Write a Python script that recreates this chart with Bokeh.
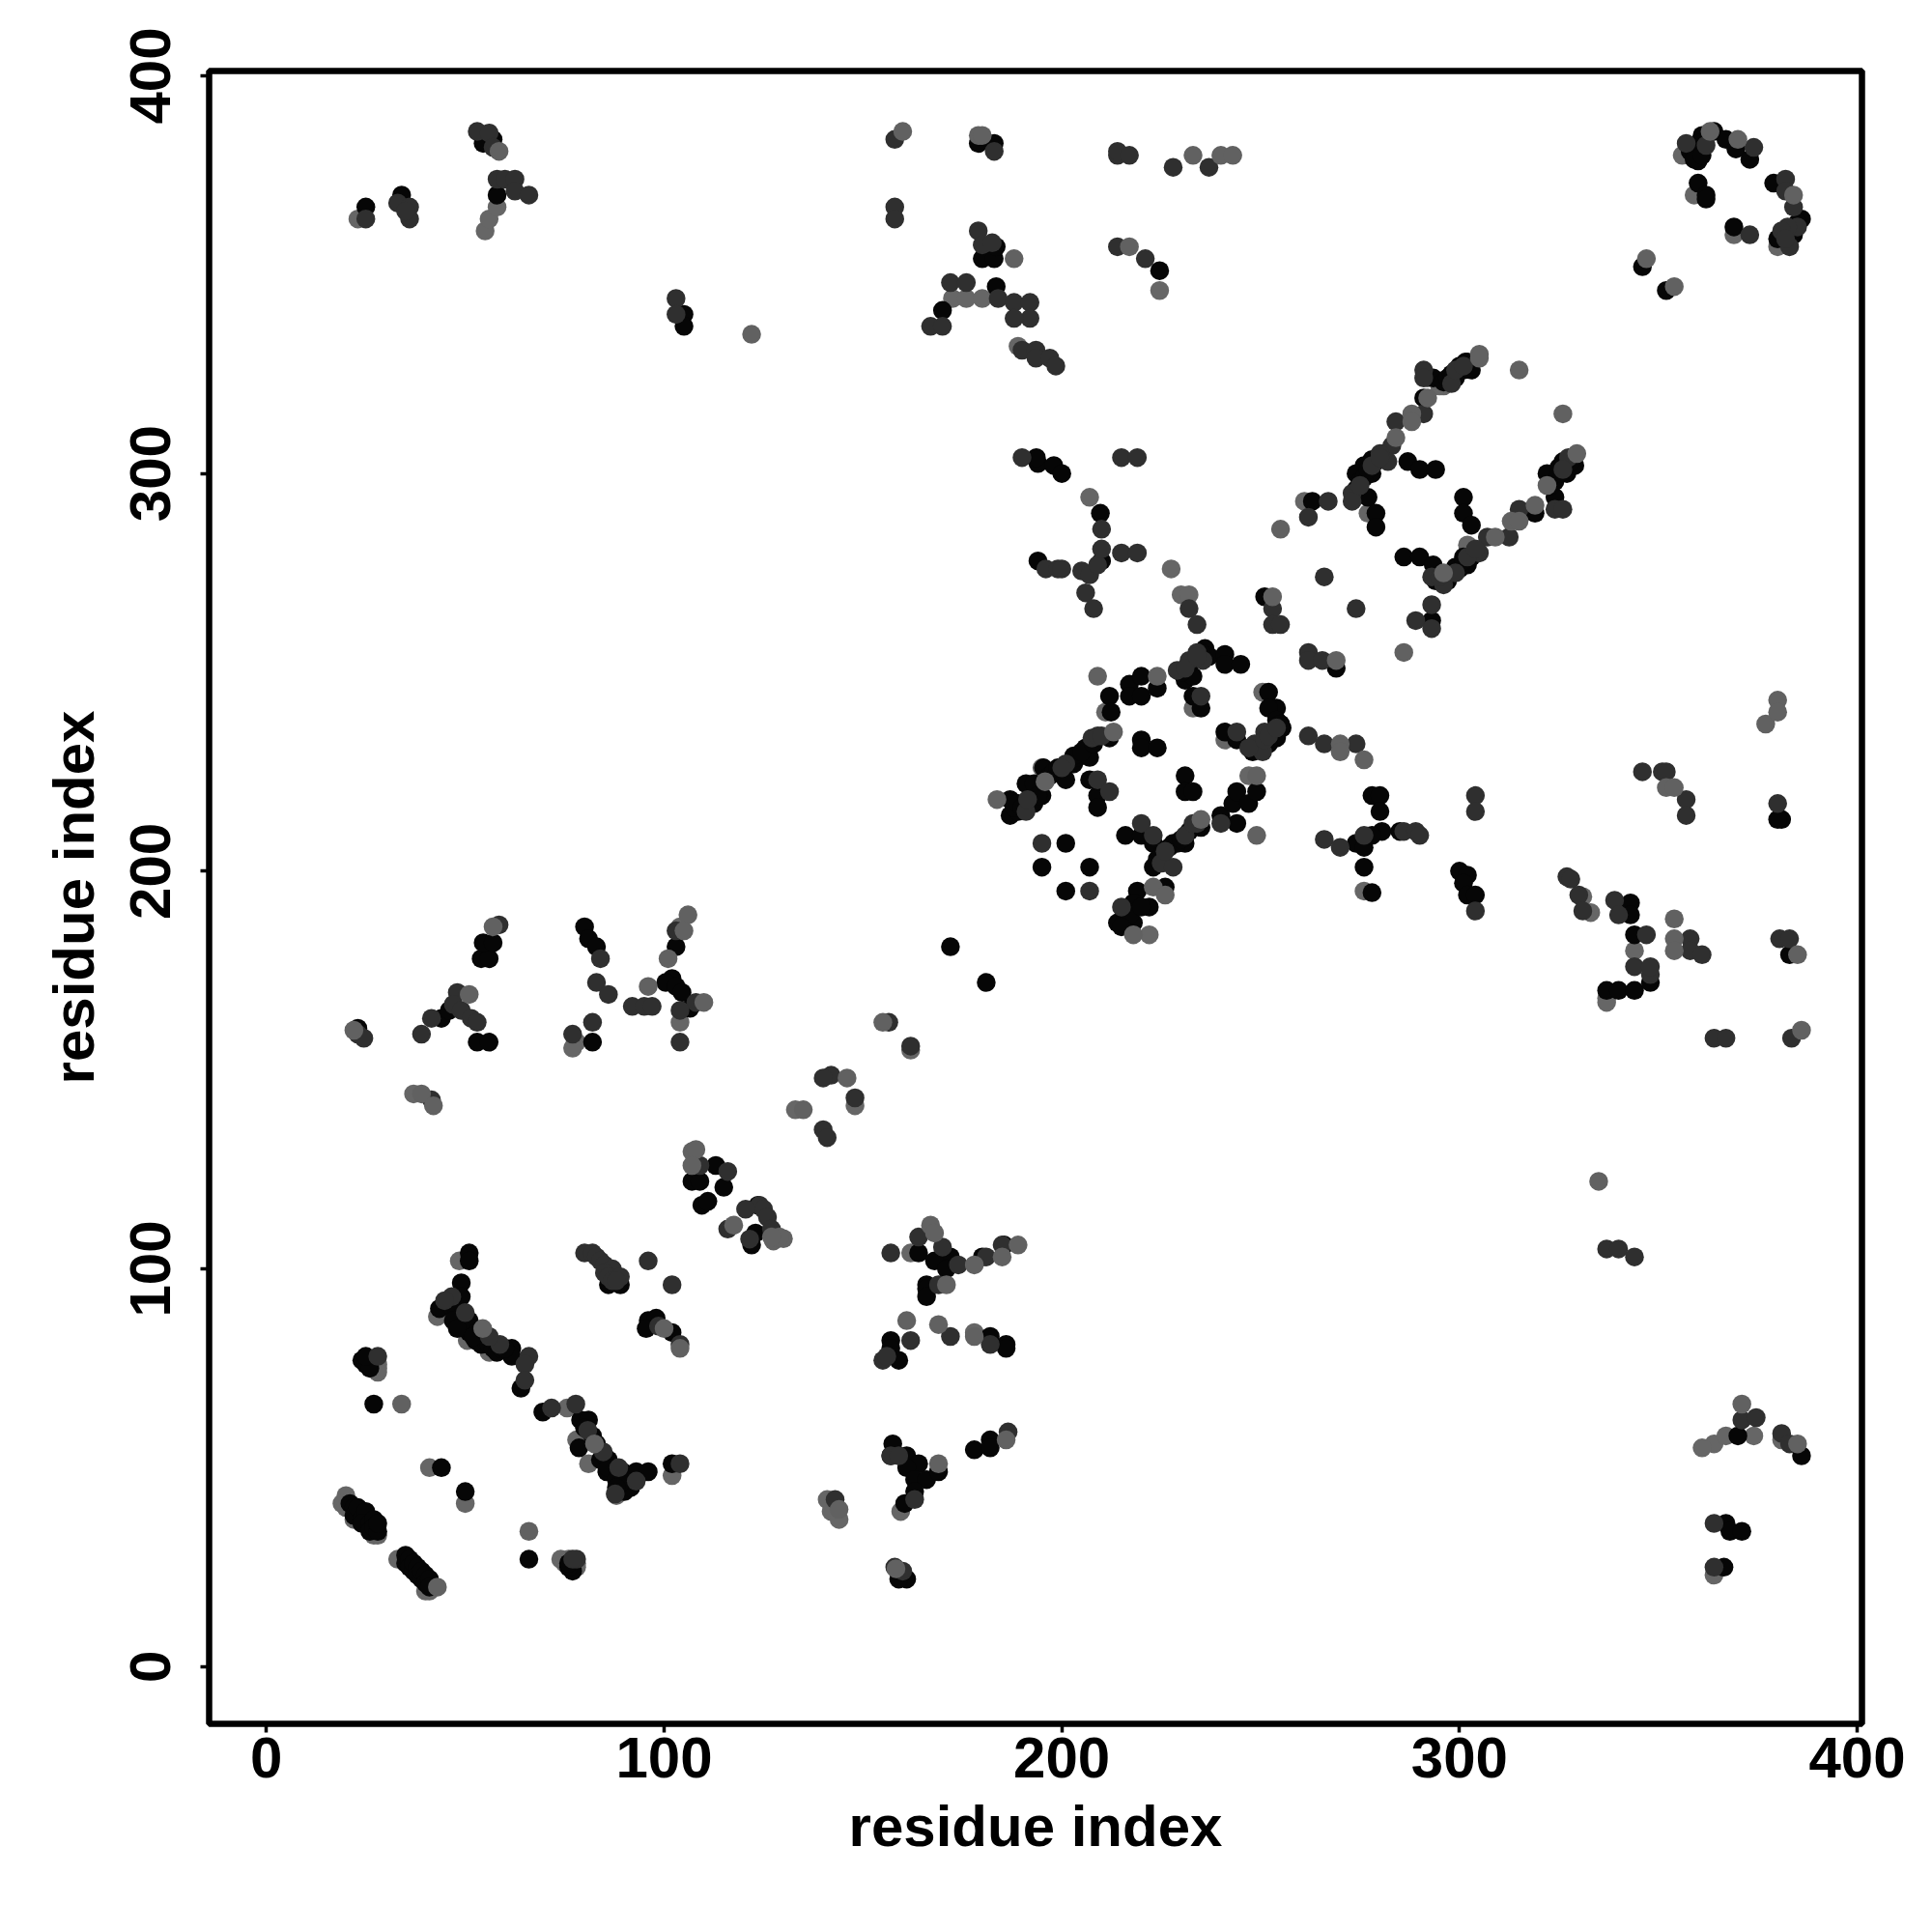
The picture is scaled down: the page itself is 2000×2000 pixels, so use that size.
from bokeh.plotting import figure
from bokeh.embed import file_html
from bokeh.resources import INLINE
from bokeh.models import FixedTicker, ColumnDataSource

tick_values = [0, 100, 200, 300, 400]
x_title = "residue index"
y_title = "residue index"

gray_under = [
 (20,43),(19,41),(20,40),(22,37),(24,38),(26,35),(27,33),(28,33),(33,27),(40,19),(41,19),
 (43,88),(50.5,82),(56,79),(41,50),(50,41),(74,27),(75,26),(76,27),(78,25),(78,26),(28,76),(28,75),(28,74),(27,77),
 (75.6,65),(78,57),(81,51),(102,48),(88,43),(162,104),(178,84),(159.5,39),(141,42),(142,39),(144,37),
 (211,240),(195,226),(233,241),(241,233),(250.5,245),(247,224),(222,184),(276,195),(261,293),(277,290),
 (292,324),(296,322),(295,322),(302,282),(356,380),(359,370),(369,360),(380,357),(337,168),(337,167),(48.5,102),
 (78,157),(77,155.5),(37,144),(104,162),(133,140),(148,141),(162,155),(23,364),(55,361),(56,364),(58,367),
 (189,332),(172.5,344),(176,344),(180,344),(224.6,346),(207,294),(227.5,276),(230,269.5),(232,269.5),
 (331,193.6),(333,189.6),(344,180),(364,23),(364,56),(361,55),(367,58),(374,58),(381,57),(104,186),
]
black = [
 (21,41),(22,40),(22,38),(23,40),(24,37),(25,39),(24,36),(26,36),(26,34),(27,37),(27,35),(28,34),(28,36),
 (35,28),(35,26),(36,27),(36,25),(37,24),(37,26),(38,25),(38,23),(39,22),(39,24),(40,23),(40,21),(41,22),(41,20),
 (27,66),(44,50),(50,44),(66,27),(77,24),(76,25),(76,26),(24,77),(25,76),(26,75),(25,78),
 (49,96.5),(49,93),(43.5,90),(51,87),(49,86),(52.6,82),(61.7,80),(61.7,78),(64,70),
 (46,91),(47,90),(48,89),(49,88),(50,85),(51,84),(52,85),(53,84),(54,83),(54,81),(55,82),(56,81),(57,80),(58,79),(59,80),(60,80),
 (69.5,64),(79,62),(81,62),(78.6,55),(86,52),(85.6,49),(89.5,49),(90,44),(91.6,45),(93,49),(96,49),(102,51),
 (80,60),(82,58),(83,56),(84,52),(85,53),(86,50),(88,47),(89,46),(90,47),(88,45),
 (96,87),(98,87.6),(95.5,85),(102,84),(88.6,97),(86,96),(89,96),(51,104),(51,102),
 (123,109),(122,106),(107,122),(109,122),(115,120.5),(109.5,116),(111,117),(123.6,116),(113,126),
 (164,104),(172,103),(168,102),(171,100),(180,103),(185.5,106),(166,96),(166,95),(166,93),(157,82),(157,80),(159,77),(182,83),(186,81),(186,80),
 (157.5,56),(157,53),(161,53),(164,51),(161,50),(163,47),(166,47),(169,49),(163,44),(160.5,41),(178,54.5),(182,57),(182,55),(161,22),(159,22),
 (212,244),(212.4,240),(217,247),(217,244),(220,244),(220,249),(224,246),(187,218),(187,214),(189,215),(191,222),(193,222),(195,219),(195.4,226),
 (201,223),(203,227),(204,228.6),(206,231),(207,228.6),(212,233.5),(207,223),(209,219),(209,216),(220,233),(220,231),(224,231),
 (231,224),(231,220),(233,220),(201,207),(195,201),(207,201),(201,195),(216,209),(220,209),(223,207),(223,201),(228,207),(231,207),(233,211),(235,211),
 (240,214),(244,212),(243,217),(244,220),(247,217),(249,220),(219,195),(226,196),(222,191),(218,192),(214,187),(218,187),(216,188),
 (231,248),(233,249),(236,256),(237,254),(241,254.5),(241,252),(245,252),(233,244),(235,241),
 (252,245),(254,241),(252,241),(254,238),(255.4,236),(254,233.5),(252,232),(241,235),(244,233),(269,251),
 (278,219),(280,219),(280,215),(280.5,210),(274,207),(276,206),(278,209),(285,210),(276,201),(278,194.6),(181,172),(172,181),
 (301.5,328),(301,326),(299,324),(303,326),(293.4,324),(291,319),(278,303.5),(276,302),(274,300),(278,300),(277,294),(279,290),(279,286.5),(319,290),
 (287,303),(290,301),(294,301),(301,294),(301,290),(303,287),(286,279),(290,279),(293.4,277),(301,279),(302,277),(299,276.5),
 (263,293),(251,269),(293,263),(324,294),(322,300),(325,301.5),(326,303),(327,300),(329,302),
 (346,352),(352,346),(360,373),(362,370),(362,369),(360,378.6),(361,385),(364,386),(367,384),(369.5,381.6),(373,379),(379,373),(386,364),(384,360),(369,362),
 (25,367),(34,370),(58,370),(54.5,383),(57,384),(105,340),(105,337),(179,383),(183,383),(180,354),(183,354),(183.5,357),(183.5,347),(170,341),(194,302.5),
 (194,278),(210,278),(209.7,290),(224.6,351),(193.6,304),(198,302),(200,300),
 (300,200),(302,199),(301,197),(302,194),(304,194),(343,192),(343,189),(344,184),(337,170),(340,170),(344,170),(348,172),
 (381,213),(380,213),(383,179),(386,53),(370,58),(367,36),(368,34),(371,34),(366.5,25),
 (54,178),(56,178),(54.5,182),(57,182),(53,157),(56,157),(44,163),(46,165),(23,160.5),
 (80,186),(81,183),(83,181),(82,157),(102,173),(100.4,172),(103,171),(104.5,169.5),(103,181),(106.5,165.5),
 (274,296),(275,298),(276,299),(277,301),(279,303),(281,305),(294,273),(297,273),(298,275),(300,276),(301,278),(303,279),
 (296,323),(297,324),(298,325),(300,327),(302,328),(323,297),(324,298),(325,300),(327,302),(328,303),
 (197,224),(198,225),(199,226),(203,229),(205,230),(208,232),(224,203),(225,204),(227,206),(229,207),(230,208),(232,210),
 (230,250),(232,252),(233,253),(235,255),(248,230),(249,231),(250,232),(253,235),(255,237),(188,216),(189,217),(190,216),(193,217),(194,219),
 (358,381),(359,382),(359,379),(360,383),(361,380),(380,359),(384,361),(385,363),(383,360),
 (47,87),(48,85),(52,83),(216,190),(217,189),(220,191),(215,186),
]
dark = [
 (28,78),(78,27),(77,27),(66,78),(65,76),(65,72),(58.7,81),(56,83),(50,89),(46.6,93),(44.8,92),
 (71.7,65),(77.8,66),(80.8,59.4),(84.7,54),(88.6,50),(87.7,43.4),(93,46.6),(104,51),(96,102),(102,96),(98.6,85.6),(104,81),
 (80,104),(82,104),(83,103),(84,102),(85,101),(87,100),(85,99),(86,98),(87,97),(89,98),(88,97),
 (124,116),(125,115),(126,113),(127,110),(116,124.5),(109,126),(116,110),(120.5,115),(121.5,107.5),
 (157,104),(164,108),(170,105.5),(174,101),(181,103),(185,106),(169,96),(162,82),(155,77),(156,78),(172,83),(182,81),
 (157,53),(159,53),(163,42),(186.5,59),(143,42),(158,25),(160,24),
 (191,215),(191.4,218),(201,227),(207.6,233.5),(209,234),(209,223),(212,220),(195,207),(207,195),(220,212),(223,209),(225,202),(228,201),(231,209),(233,212),(240,212),
 (215,191),(229,250.5),(232,253),(234,255),(235.5,253),(235,244),(251,235),(248.5,232),(250.5,230),(247,231),(244,235),
 (262,255),(262,253),(265.5,253),(262,234),(266,232),(274,232),(266,208),(270,206),(276,209),(291,326),(291,324),(298,322.6),
 (291,315),(284,313),(283,307),(282,303),(280,305),(273,295),(273,293),(293,274),(296,272),(305,280),(307,284),(312.5,284),(315,291),(324,291),(326,291),(327.4,304),
 (267,293),(262,289),(266,274),(274,266),(253,266),(253,262),(255,262),(293,267),(289,263),(293,261),
 (357,383),(362,382.5),(374,382),(382,374),(382,371),(384,367),(385,362),(382.5,362),(381,361),(383,357),(382,359),(373,360),
 (25,364),(33,368),(36,367),(36,364),(35,366),(58,374),(60,374),(62.5,374),(62.5,371),(66,370),(53,386),(56,385.6),(57,382),
 (103,344),(103,340),(158,384),(158,367),(158,364),(183,381),(214,380),(214,381),(217,380),(228,377),(237,377),
 (179,361),(180,357.5),(182.5,358),(167,337),(170,337),(172,348),(176,348),(184,344),(188,343),(192,343),(192,339),(188,339),(190,331),(193.5,331),(193.5,329),(197,329),(198.5,327),
 (214,357),(221,354),(190,304),(215,304),(219,304),(196,276),(199,276),(200,276),(205,275.5),(207,274.5),(206,270),(208,266),(209,277),(210,281),(215,280),(219,280),(210,286),(232,266),(234,262),
 (286,210),(289,210),(290,209),(304,219),(304,215),(304,190),(327,198.6),(328,198),(330,194),(331,190),(339,192.7),(340,189),(347,184),(348,174),(344,176),(348,176),(358,183),(358,180),(361,179),
 (346,225),(351,225),(352,225),(357,218),(357,214),(380,217),(380.5,183),(383,183),(364,158),(367,158),(383.5,158),(337,105),(340,105),(344,103),
 (371,62),(374.6,62.6),(381,58.6),(383,56),(364,36),(364,25),
 (23,159),(24.5,158),(41.5,142.5),(39,159),(41.5,163),(48,169.5),(47,166.5),(49,165),(51.5,163),(53,162),(58.5,186.5),(84,178),(83,172),(86,169),(82,162),(77,159),
 (92,166),(95,166),(97,166),(103,185),(108,167),(104,165),(104,157),(142,148.7),(140,148),(148,143),(140,135),(141,133),(156.5,162),(162,156),
 (275,297),(278,302),(280,304),(295,274),(299,275),(302,279),(304,281),(299,326),(301,327),(326,301),(200,226),(210,234),(226,205),(234,212),
 (231,251),(234,254),(251,233),(252,234),(254,236),
]
gray_top = [
 (43,20),(34,66),(66,34),(104,80),(100,85),(54.4,85),(82.5,56),
 (130,107.6),(127.5,107),(129,108),(127,108),(107,129.5),(108,130),(107,126),(117.5,111),
 (167,111),(168,109),(171,96),(178,101),(185,103),(189,106),(161,87),(169,86),(178,83),(186,57),(169,51),(144,39.5),(158.3,24.6),
 (209,249),(183.7,218),(195.8,222.5),(213,235),(224,249),(235,213),(249,209),(249,224),(218,184),(223,196),(226,194),(270,232),(270,230),(276,228),(269,253),
 (305,330),(305,329),(315,326),(326,315),(292,319),(288,315),(288,313),(284,309),(255,286),(253,269),(286,255),(309,284),(313,288),(315,288),(319,292),(329.5,305),(296,275),(322,297),
 (160,386),(179,385),(180,385),(188,354),(122,335),(233,380),(240,380),(243,380),(217,357),(363,386),(370,384),(384,370),
 (347,354),(354,347),(352,221),(354,221),(377,237),(380,243),(380,240),(385,179),(386,160),(335,122),(371,66),(385,56),
 (22,160),(39,144),(42,141),(51,169),(57,186),(106,189),(105,185),(96,171),(101,178),(110,167),(146,148),(135,140),(155,162),(58.5,381),(354,188),(354,183),(354,180),
]

shades = [("#666666", gray_under), ("#060606", black), ("#2f2f2f", dark), ("#616161", gray_top)]

p = figure(width=1990, height=1990, output_backend="svg", toolbar_location=None,
           x_range=(-14.4, 401.2), y_range=(-14.4, 401.2),
           min_border_left=216, min_border_right=63, min_border_top=73, min_border_bottom=206,
           x_axis_label=x_title, y_axis_label=y_title)
p.grid.visible = False
p.outline_line_color = "black"
p.outline_line_width = 6.5
p.background_fill_color = "white"
p.border_fill_color = "white"

for colour, pts in shades:
    src = ColumnDataSource(dict(x=[a for a, _ in pts], y=[b for _, b in pts]))
    p.scatter("x", "y", source=src, size=19.5, color=colour, line_color=None)

for ax in (p.xaxis[0], p.yaxis[0]):
    ax.ticker = FixedTicker(ticks=tick_values)
    ax.axis_line_color = None
    ax.minor_tick_line_color = None
    ax.major_tick_line_color = "black"
    ax.major_tick_line_width = 3.5
    ax.major_tick_out = 9
    ax.major_tick_in = 0
    ax.major_label_text_font = "Liberation Sans"
    ax.major_label_text_font_style = "bold"
    ax.major_label_text_font_size = "60px"
    ax.major_label_text_color = "black"
    ax.axis_label_text_font = "Liberation Sans"
    ax.axis_label_text_font_style = "bold"
    ax.axis_label_text_font_size = "60px"
    ax.axis_label_text_color = "black"
p.yaxis[0].major_label_orientation = "vertical"
p.xaxis[0].major_label_standoff = 5
p.yaxis[0].major_label_standoff = 31
p.xaxis[0].axis_label_standoff = 14
p.yaxis[0].axis_label_standoff = 23

open("out.html", "w").write(file_html(p, INLINE))
